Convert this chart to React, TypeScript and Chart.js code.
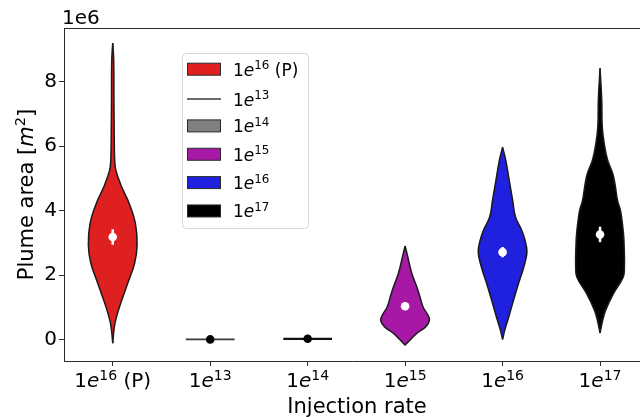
import React, { useEffect, useRef } from 'react';
import { Chart, registerables } from 'chart.js';

Chart.register(...registerables);

const FONT = '"DejaVu Sans", Verdana, sans-serif';
const SPINE = '#2b2b2b';
const OUTLINE = '#1a1a1a';

// ---- data ----
const categories = ['1e16 (P)', '1e13', '1e14', '1e15', '1e16', '1e17'];
const catExponents = ['16', '13', '14', '15', '16', '17'];
const catSuffixes = [' (P)', '', '', '', '', ''];
const fillColors = ['#df2020', '#808080', '#808080', '#a718a7', '#2020df', '#000000'];
const yTicks = [0, 2, 4, 6, 8];

// violin outlines: value (x1e6 m^2) and relative density (widest = 1)
const p16Y = [-0.12, 0.29, 0.6, 1.13, 1.75, 2.37, 2.93, 3.6, 4.23, 4.73, 5.25, 5.57, 6.5, 7.43, 8.67, 9.2];
const p16D = [0, 0.05, 0.12, 0.33, 0.62, 0.9, 1, 0.93, 0.67, 0.37, 0.13, 0.08, 0.06, 0.05, 0.04, 0];

const e15Y = [-0.18, -0.02, 0.2, 0.39, 0.6, 0.8, 1.0, 1.32, 1.63, 2.06, 2.56, 2.9];
const e15D = [0, 0.2, 0.5, 0.84, 1, 0.9, 0.74, 0.61, 0.48, 0.27, 0.11, 0];

const e16Y = [0, 0.29, 0.69, 1.22, 1.75, 2.25, 2.71, 3.08, 3.4, 3.8, 4.33, 4.95, 5.57, 5.97];
const e16D = [0, 0.09, 0.25, 0.45, 0.66, 0.87, 1, 0.92, 0.78, 0.53, 0.41, 0.27, 0.13, 0];

const e17Y = [0.2, 0.6, 0.91, 1.44, 1.93, 2.25, 2.87, 3.3, 4.0, 4.31, 4.84, 5.15, 5.57, 6.09, 6.6, 7.43, 8.42];
const e17D = [0, 0.11, 0.23, 0.56, 0.95, 1, 0.99, 0.96, 0.84, 0.72, 0.61, 0.52, 0.31, 0.17, 0.09, 0.07, 0];

// degenerate (all ~zero) samples drawn as flat lines
const e13Level = 0.0;
const e14Level = 0.02;

// mean markers and their error bars
const meanValues = [3.18, 0.0, 0.02, 1.03, 2.71, 3.26];
const errValues = [0.24, 0, 0, 0.07, 0.16, 0.24];

const HALF = 0.25; // half width of the widest part of a violin (category units)

type Part = { t: string; it?: boolean; sup?: boolean };

function drawParts(ctx: CanvasRenderingContext2D, parts: Part[], x: number, y: number, size: number, align: 'left' | 'center') {
  const fonts = parts.map((p) => `${p.it ? 'italic ' : ''}${p.sup ? (size * 0.7).toFixed(1) : size}px ${FONT}`);
  const widths = parts.map((p, k) => {
    ctx.font = fonts[k];
    return ctx.measureText(p.t).width;
  });
  const total = widths.reduce((a, b) => a + b, 0);
  let cx = align === 'center' ? x - total / 2 : x;
  ctx.textAlign = 'left';
  ctx.textBaseline = 'alphabetic';
  parts.forEach((p, k) => {
    ctx.font = fonts[k];
    ctx.fillText(p.t, cx, p.sup ? y - size * 0.37 : y);
    cx += widths[k];
  });
}

const labelParts = (i: number): Part[] => {
  const parts: Part[] = [{ t: '1' }, { t: 'e', it: true }, { t: catExponents[i], sup: true }];
  if (catSuffixes[i]) parts.push({ t: catSuffixes[i] });
  return parts;
};

const decorPlugin = {
  id: 'decor',
  afterDraw(chart: any) {
    const ctx: CanvasRenderingContext2D = chart.ctx;
    const area = chart.chartArea;
    const xs = chart.scales.x;
    ctx.save();
    // top spine
    ctx.strokeStyle = SPINE;
    ctx.lineWidth = 1;
    ctx.beginPath();
    ctx.moveTo(area.left, area.top + 0.5);
    ctx.lineTo(area.right, area.top + 0.5);
    ctx.stroke();

    ctx.fillStyle = '#000';
    // x tick labels
    categories.forEach((_, i) => {
      drawParts(ctx, labelParts(i), xs.getPixelForValue(i), 387, 20, 'center');
    });
    // offset text
    drawParts(ctx, [{ t: '1e6' }], 62, 24, 20, 'left');
    // x title
    drawParts(ctx, [{ t: 'Injection rate' }], 357, 413, 21, 'center');
    // y title
    ctx.save();
    ctx.translate(33, (area.top + area.bottom) / 2);
    ctx.rotate(-Math.PI / 2);
    drawParts(ctx, [{ t: 'Plume area [' }, { t: 'm', it: true }, { t: '2', sup: true }, { t: ']' }], 0, 0, 21, 'center');
    ctx.restore();

    // legend
    const lx = 182, ly = 53, lw = 126, lh = 175;
    ctx.beginPath();
    (ctx as any).roundRect(lx + 0.5, ly + 0.5, lw, lh, 4);
    ctx.fillStyle = 'rgba(255,255,255,0.8)';
    ctx.fill();
    ctx.strokeStyle = '#d6d6d6';
    ctx.lineWidth = 1;
    ctx.stroke();
    categories.forEach((_, i) => {
      const cy = 69.2 + i * 28.35;
      if (i === 1) {
        ctx.strokeStyle = '#3a3a3a';
        ctx.lineWidth = 1.5;
        ctx.beginPath();
        ctx.moveTo(187, cy + 1.5);
        ctx.lineTo(221, cy + 1.5);
        ctx.stroke();
      } else {
        ctx.fillStyle = fillColors[i];
        ctx.fillRect(187.5, cy - 6, 33, 12);
        ctx.strokeStyle = '#2a2a2a';
        ctx.lineWidth = 1;
        ctx.strokeRect(187.5, cy - 6, 33, 12);
      }
      ctx.fillStyle = '#000';
      drawParts(ctx, labelParts(i), 233, cy + 6.5 + (i === 1 ? 1.5 : 0), 17, 'left');
    });
    ctx.restore();
  },
};

export default function App() {
  const ref = useRef<HTMLCanvasElement>(null);
  useEffect(() => {
    document.body.style.margin = '0';
    const canvas = ref.current;
    if (!canvas) return;

    const datasets: any[] = [];
    // mean dots
    datasets.push({
      data: meanValues.map((m, i) => ({ x: i, y: m })),
      showLine: false,
      pointRadius: 4.3,
      pointBorderWidth: 0,
      pointBackgroundColor: meanValues.map((_, i) => (i === 1 || i === 2 ? '#000' : '#fff')),
      order: 1,
    });
    // error bars
    meanValues.forEach((m, i) => {
      if (errValues[i] <= 0) return;
      datasets.push({
        data: [
          { x: i, y: m - errValues[i] },
          { x: i, y: m + errValues[i] },
        ],
        borderColor: '#fff',
        borderWidth: 2.5,
        pointRadius: 0,
        tension: 0,
        fill: false,
        order: 2,
      });
    });
    // flat violins
    [
      { i: 1, level: e13Level, color: '#3a3a3a', w: 1.6 },
      { i: 2, level: e14Level, color: '#111', w: 2.2 },
    ].forEach((f) => {
      datasets.push({
        data: [
          { x: f.i - HALF, y: f.level },
          { x: f.i + HALF, y: f.level },
        ],
        borderColor: f.color,
        borderWidth: f.w,
        pointRadius: 0,
        tension: 0,
        fill: false,
        order: 3,
      });
    });
    // violins: right side then left side (filled to the right side)
    [
      { i: 0, ys: p16Y, ds: p16D },
      { i: 3, ys: e15Y, ds: e15D },
      { i: 4, ys: e16Y, ds: e16D },
      { i: 5, ys: e17Y, ds: e17D },
    ].forEach((v) => {
      const common = {
        borderColor: OUTLINE,
        borderWidth: 1.5,
        pointRadius: 0,
        tension: 0.4,
        backgroundColor: fillColors[v.i],
        order: 4,
      };
      datasets.push({
        ...common,
        data: v.ys.map((y, k) => ({ x: v.i + HALF * v.ds[k], y })),
        fill: false,
      });
      datasets.push({
        ...common,
        data: v.ys.map((y, k) => ({ x: v.i - HALF * v.ds[k], y })),
        fill: '-1',
      });
    });

    const chart = new Chart(canvas, {
      type: 'line',
      data: { labels: categories, datasets },
      options: {
        responsive: false,
        devicePixelRatio: 1,
        animation: false,
        events: [],
        indexAxis: 'y',
        layout: { autoPadding: false, padding: { top: 28, left: 0, right: 0, bottom: 0 } },
        plugins: { legend: { display: false }, tooltip: { enabled: false }, title: { display: false } },
        scales: {
          x: {
            type: 'linear',
            position: 'bottom',
            min: -0.5,
            max: 5.41,
            afterBuildTicks: (s: any) => {
              s.ticks = categories.map((_, i) => ({ value: i }));
            },
            afterFit: (s: any) => {
              s.height = 56;
            },
            ticks: { display: false, autoSkip: false },
            grid: { display: true, drawOnChartArea: false, drawTicks: true, tickLength: 5, color: SPINE, tickColor: SPINE },
            border: { display: true, color: SPINE, width: 1 },
          },
          y: {
            type: 'linear',
            position: 'left',
            min: -0.67,
            max: 9.67,
            afterBuildTicks: (s: any) => {
              s.ticks = yTicks.map((v) => ({ value: v }));
            },
            afterFit: (s: any) => {
              s.width = 64;
            },
            ticks: {
              autoSkip: false,
              padding: 2,
              color: '#000',
              font: { family: FONT, size: 20 },
              callback: (v: any) => String(v),
            },
            grid: { display: true, drawOnChartArea: false, drawTicks: true, tickLength: 5, color: SPINE, tickColor: SPINE },
            border: { display: true, color: SPINE, width: 1 },
          },
        },
      } as any,
      plugins: [decorPlugin],
    });
    return () => chart.destroy();
  }, []);

  return (
    <div style={{ position: 'absolute', left: 0, top: 0, width: 640, height: 417, background: '#fff' }}>
      <canvas ref={ref} width={640} height={417} style={{ display: 'block' }} />
    </div>
  );
}
